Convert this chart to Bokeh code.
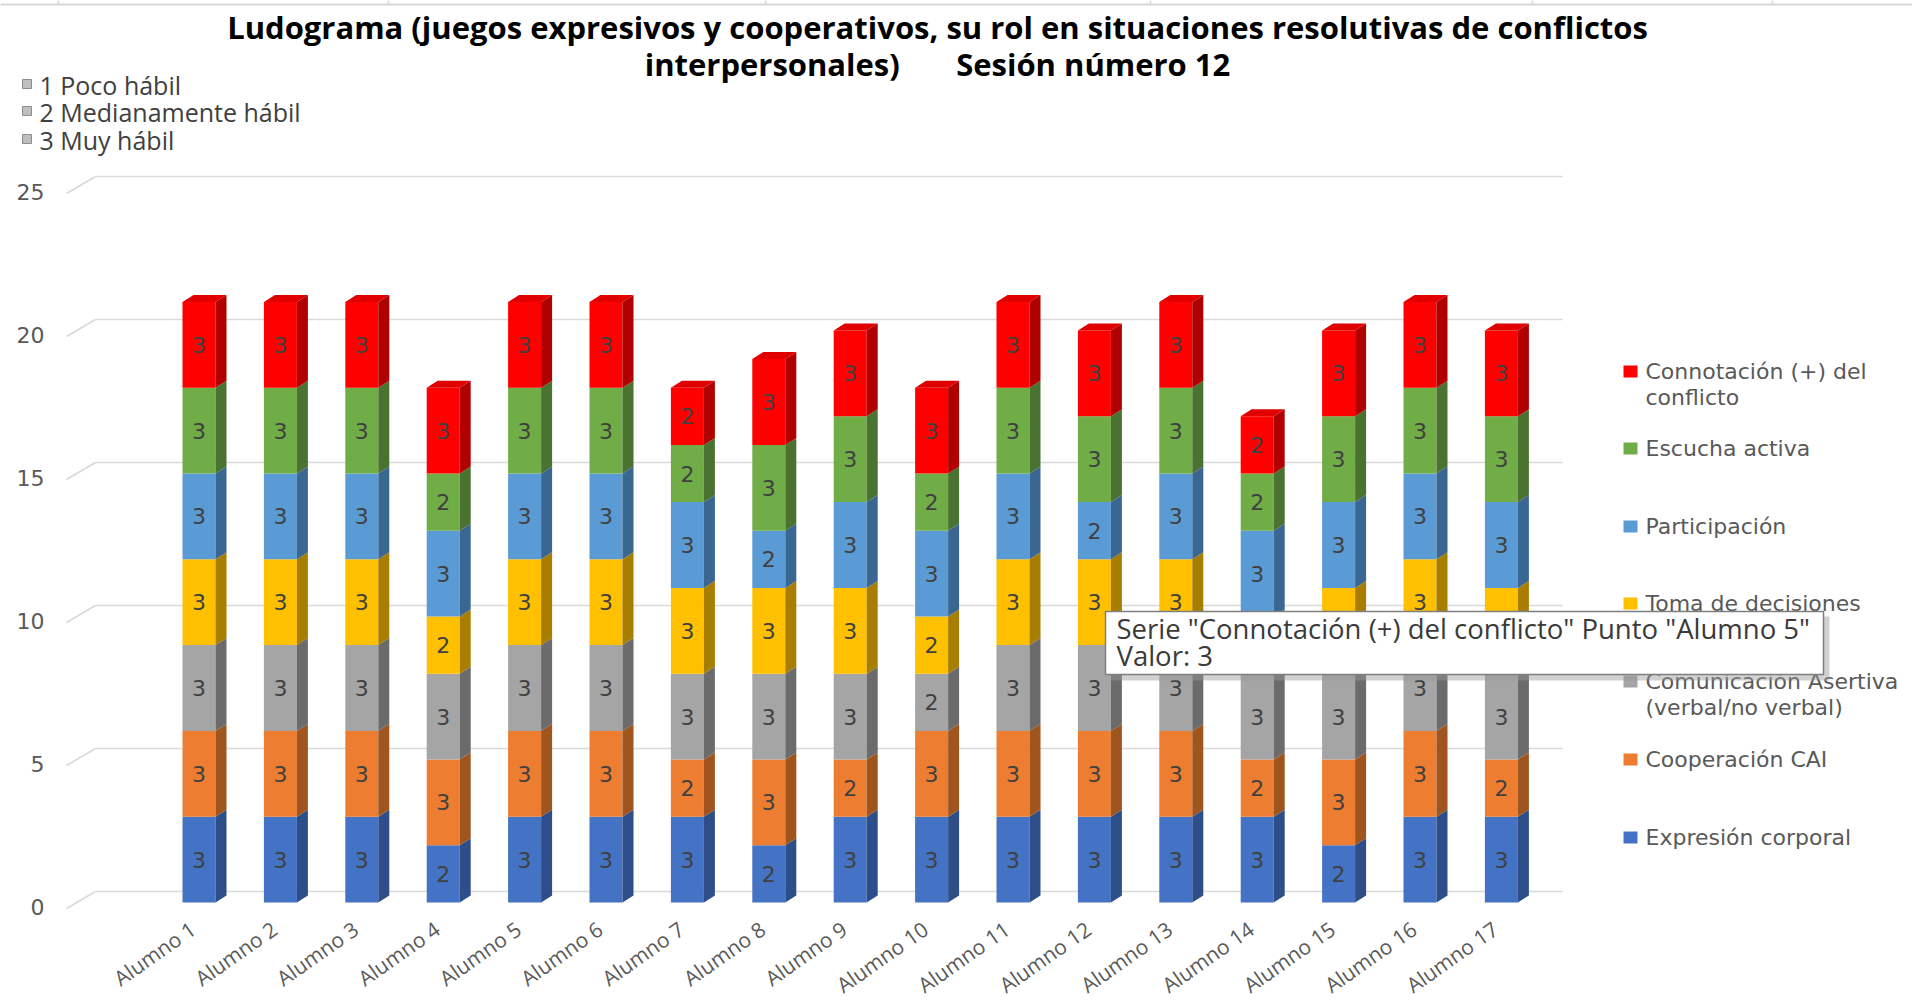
import math
from bokeh.plotting import figure
from bokeh.models import Range1d
from bokeh.core.properties import value
from bokeh.embed import file_html
from bokeh.resources import INLINE

# ---------------- data ----------------
alumnos = [f"Alumno {i}" for i in range(1, 18)]
series_names = ["Expresión corporal", "Cooperación CAI",
                "Comunicación Asertiva (verbal/no verbal)", "Toma de decisiones",
                "Participación", "Escucha activa", "Connotación (+) del conflicto"]
legend_lines = [["Expresión corporal"], ["Cooperación CAI"],
                ["Comunicación Asertiva", "(verbal/no verbal)"], ["Toma de decisiones"],
                ["Participación"], ["Escucha activa"], ["Connotación (+) del", "conflicto"]]
expresion = [3, 3, 3, 2, 3, 3, 3, 2, 3, 3, 3, 3, 3, 3, 2, 3, 3]
cooperacion = [3, 3, 3, 3, 3, 3, 2, 3, 2, 3, 3, 3, 3, 2, 3, 3, 2]
comunicacion = [3, 3, 3, 3, 3, 3, 3, 3, 3, 2, 3, 3, 3, 3, 3, 3, 3]
toma = [3, 3, 3, 2, 3, 3, 3, 3, 3, 2, 3, 3, 3, 2, 3, 3, 3]
participacion = [3, 3, 3, 3, 3, 3, 3, 2, 3, 3, 3, 2, 3, 3, 3, 3, 3]
escucha = [3, 3, 3, 2, 3, 3, 2, 3, 3, 2, 3, 3, 3, 2, 3, 3, 3]
connotacion = [3, 3, 3, 3, 3, 3, 2, 3, 3, 3, 3, 3, 3, 2, 3, 3, 3]
series_values = [expresion, cooperacion, comunicacion, toma, participacion, escucha, connotacion]
y_ticks = [0, 5, 10, 15, 20, 25]
escala = ["1 Poco hábil", "2 Medianamente hábil", "3 Muy hábil"]
title_lines = ["Ludograma (juegos expresivos y cooperativos, su rol en situaciones resolutivas de conflictos",
               "interpersonales)\u00a0\u00a0\u00a0\u00a0\u00a0\u00a0 Sesión número 12"]
tooltip_lines = ['Serie "Connotación (+) del conflicto" Punto "Alumno 5"', "Valor: 3"]

# ---------------- style ----------------
front_col = ["#4472C4", "#ED7D31", "#A5A5A5", "#FFC000", "#5B9BD5", "#70AD47", "#FF0000"]
side_col = ["#2E4E8A", "#A0551F", "#6B6B6B", "#A87E00", "#3A6792", "#4A7230", "#B00000"]
top_col = ["#3A63AE", "#D26C28", "#939393", "#E6AD00", "#4F89BE", "#62993E", "#E00000"]

W, H = 1912, 999
X0, DX = 198.5, 81.4     # px of first bar centre, px per category
Y0, DY = 902.0, 28.6     # px of value 0 (bar front), px per unit

def fx(px):
    return (px - X0) / DX

def fy(py):
    return (Y0 - py) / DY

p = figure(width=W, height=H, output_backend="svg", toolbar_location=None,
           x_range=Range1d(fx(0), fx(W)), y_range=Range1d(fy(H), fy(0)),
           x_axis_location=None, y_axis_location=None, min_border=0,
           outline_line_color=None, background_fill_color="white")
p.grid.visible = False

# faint sheet cell lines at the very top
p.line([fx(0), fx(W)], [fy(4), fy(4)], line_color="#D6D6D6", line_width=2)
for cx in [58, 388, 765, 1150, 1532, 1772]:
    p.line([fx(cx), fx(cx)], [fy(0), fy(4)], line_color="#D6D6D6", line_width=1.5)

# back-wall gridlines with perspective diagonal
back_up = 11 / DY
front_dn = 6 / DY
for v in y_ticks:
    p.line([fx(95), fx(1562)], [v + back_up, v + back_up], line_color="#D9D9D9", line_width=1.6)
    p.line([fx(66), fx(95)], [v - front_dn, v + back_up], line_color="#D9D9D9", line_width=1.6)

p.text(x=[fx(44)] * len(y_ticks), y=[v - front_dn + 2 / DY for v in y_ticks], text=[str(v) for v in y_ticks],
       text_align="right", text_baseline="middle", text_color="#595959",
       text_font=value("DejaVu Sans"), text_font_size="22px")

# ---------------- 3D stacked bars ----------------
hw = 16.5 / DX
ddx = 11 / DX
ddy = 7 / DY
n = len(alumnos)
cum = [0] * n
lab_x, lab_y, lab_t = [], [], []
for k, vals in enumerate(series_values):
    bottoms = cum[:]
    tops = [b + v for b, v in zip(bottoms, vals)]
    xs_i = list(range(n))
    p.quad(left=[i - hw for i in xs_i], right=[i + hw for i in xs_i], bottom=bottoms, top=tops,
           fill_color=front_col[k], line_color=None)
    sx = [[i + hw, i + hw + ddx, i + hw + ddx, i + hw] for i in xs_i]
    sy = [[b, b + ddy, t + ddy, t] for b, t in zip(bottoms, tops)]
    p.patches(sx, sy, fill_color=side_col[k], line_color=None)
    for i in xs_i:
        lab_x.append(i)
        lab_y.append(bottoms[i] + vals[i] / 2)
        lab_t.append(str(vals[i]))
    cum = tops

tx = [[i - hw, i + hw, i + hw + ddx, i - hw + ddx] for i in range(n)]
ty = [[t, t, t + ddy, t + ddy] for t in cum]
p.patches(tx, ty, fill_color=top_col[-1], line_color=None)

p.text(x=lab_x, y=lab_y, text=lab_t, text_align="center", text_baseline="middle",
       text_color="#404040", text_font=value("DejaVu Sans"), text_font_size="22px")

# category labels
p.text(x=[i - 6 / DX for i in range(n)], y=[fy(926)] * n, text=alumnos, angle=math.radians(35),
       text_align="right", text_baseline="middle", text_color="#595959",
       text_font=value("Open Sans"), text_font_size="21px")

# ---------------- title ----------------
p.text(x=[fx(937)], y=[fy(26)], text=[title_lines[0]], text_align="center", text_baseline="middle",
       text_color="#000000", text_font=value("Open Sans"), text_font_style="bold", text_font_size="31px")
p.text(x=[fx(937)], y=[fy(63)], text=[title_lines[1]], text_align="center", text_baseline="middle",
       text_color="#000000", text_font=value("Open Sans"), text_font_style="bold", text_font_size="31px")

# ---------------- scale legend (top-left) ----------------
esc_y = [84, 111, 139]
p.quad(left=[fx(22)] * 3, right=[fx(31)] * 3, top=[fy(y - 5) for y in esc_y], bottom=[fy(y + 4) for y in esc_y],
       fill_color="#BFBFBF", line_color="#8C8C8C", line_width=1)
p.text(x=[fx(39)] * 3, y=[fy(y) for y in esc_y], text=escala, text_align="left", text_baseline="middle",
       text_color="#404040", text_font=value("Open Sans"), text_font_size="25px")

# ---------------- series legend (right) ----------------
leg_y = [837, 759, 681, 603, 526, 448, 371]
p.quad(left=[fx(1623)] * 7, right=[fx(1637)] * 7, top=[fy(y - 6) for y in leg_y],
       bottom=[fy(y + 6) for y in leg_y], fill_color=front_col, line_color=None)
lx, ly, lt = [], [], []
for k, lines in enumerate(legend_lines):
    for j, t in enumerate(lines):
        lx.append(fx(1645))
        ly.append(fy(leg_y[k] + 26 * j))
        lt.append(t)
p.text(x=lx, y=ly, text=lt, text_align="left", text_baseline="middle", text_color="#595959",
       text_font=value("DejaVu Sans"), text_font_size="22px")

# ---------------- tooltip box ----------------
p.quad(left=[fx(1110)], right=[fx(1829)], top=[fy(616)], bottom=[fy(680)],
       fill_color="#9A9A9A", fill_alpha=0.45, line_color=None)
p.quad(left=[fx(1105)], right=[fx(1823)], top=[fy(611)], bottom=[fy(674)],
       fill_color="white", line_color="#7F7F7F", line_width=1.5)
p.text(x=[fx(1116)] * 2, y=[fy(628), fy(655)], text=tooltip_lines, text_align="left",
       text_baseline="middle", text_color="#3A3A3A", text_font=value("Open Sans"), text_font_size="27.5px")

open("out.html", "w").write(file_html(p, INLINE))
